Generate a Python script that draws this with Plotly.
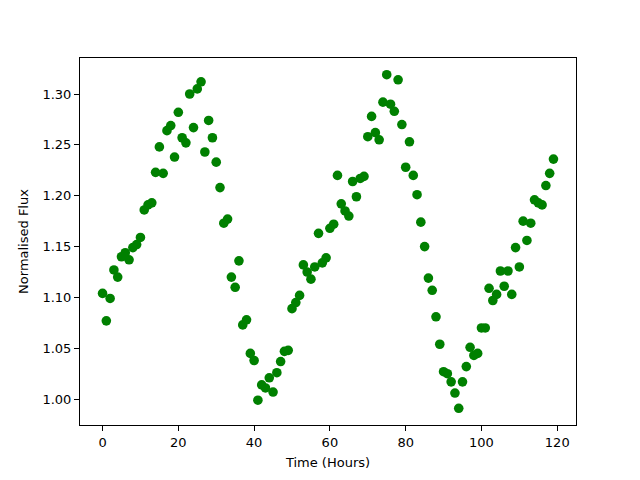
import plotly.graph_objects as go

time_hours = list(range(120))
flux = [
    1.104, 1.077, 1.099, 1.127, 1.120, 1.140, 1.144, 1.137, 1.149, 1.152,
    1.159, 1.186, 1.191, 1.193, 1.223, 1.248, 1.222, 1.264, 1.269, 1.238,
    1.282, 1.257, 1.252, 1.300, 1.267, 1.305, 1.312, 1.243, 1.274, 1.257,
    1.233, 1.208, 1.173, 1.177, 1.120, 1.110, 1.136, 1.073, 1.078, 1.045,
    1.038, 0.999, 1.014, 1.011, 1.021, 1.007, 1.026, 1.037, 1.047, 1.048,
    1.089, 1.095, 1.102, 1.132, 1.125, 1.118, 1.130, 1.163, 1.134, 1.139,
    1.168, 1.172, 1.220, 1.192, 1.185, 1.180, 1.214, 1.199, 1.217, 1.219,
    1.258, 1.278, 1.262, 1.255, 1.292, 1.319, 1.290, 1.283, 1.314, 1.270,
    1.228, 1.253, 1.220, 1.201, 1.174, 1.150, 1.119, 1.107, 1.081, 1.054,
    1.027, 1.025, 1.017, 1.006, 0.991, 1.017, 1.032, 1.051, 1.043, 1.045,
    1.070, 1.070, 1.109, 1.097, 1.103, 1.126, 1.111, 1.126, 1.103, 1.149,
    1.130, 1.175, 1.156, 1.173, 1.196, 1.193, 1.191, 1.210, 1.222, 1.236,
]
x_ticks = [0, 20, 40, 60, 80, 100, 120]
y_ticks = [1.00, 1.05, 1.10, 1.15, 1.20, 1.25, 1.30]

fig = go.Figure()
fig.add_trace(go.Scatter(
    x=time_hours, y=flux, mode="markers",
    marker=dict(color="#008000", size=9.6, line=dict(width=0)),
    showlegend=False,
))

axis_common = dict(
    showgrid=False, zeroline=False, showline=True, linecolor="black",
    linewidth=1, mirror=True, ticks="outside", ticklen=5, tickwidth=1,
    tickcolor="black", tickfont=dict(family="DejaVu Sans", size=13, color="black"),
)

xmin, xmax = min(time_hours), max(time_hours)
ymin, ymax = min(flux), max(flux)
xm = (xmax - xmin) * 0.05
ym = (ymax - ymin) * 0.05

fig.update_xaxes(
    range=[xmin - xm, xmax + xm], tickvals=x_ticks,
    ticktext=[str(v) for v in x_ticks],
    title=dict(text="Time (Hours)", font=dict(family="DejaVu Sans", size=13, color="black"), standoff=9),
    **axis_common,
)
fig.update_yaxes(
    range=[ymin - ym, ymax + ym], tickvals=y_ticks,
    ticktext=[f"{v:.2f}" for v in y_ticks],
    title=dict(text="Normalised Flux", font=dict(family="DejaVu Sans", size=13, color="black"), standoff=10),
    **axis_common,
)

fig.update_layout(
    width=632, height=472,
    margin=dict(l=72, r=64, t=50, b=53),
    plot_bgcolor="white", paper_bgcolor="white",
    font=dict(family="DejaVu Sans", size=13, color="black"),
)

fig.write_html("out.html")
